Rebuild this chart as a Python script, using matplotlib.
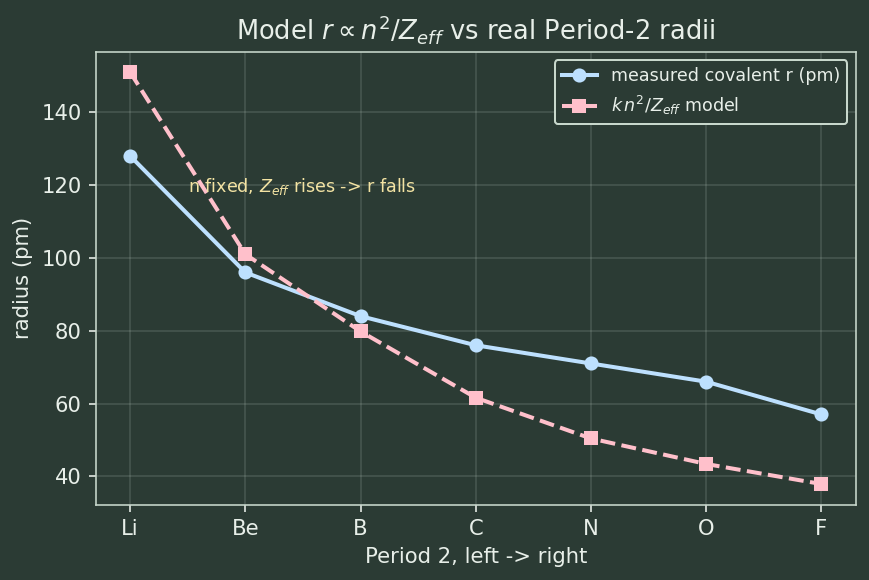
import numpy as np
import matplotlib
matplotlib.use("Agg")
import matplotlib.pyplot as plt

elements = ["Li", "Be", "B", "C", "N", "O", "F"]
measured_r = [128, 96, 84, 76, 71, 66, 57]
model_r = [151.0, 101.0, 79.8, 61.6, 50.4, 43.4, 37.9]

bg = "#2b3b34"
fg = "#e8efe9"
spine_col = "#c8d8cc"

plt.rcParams["font.family"] = ["DejaVu Sans"]
plt.rcParams["font.size"] = 10.5

fig, ax = plt.subplots(figsize=(869 / 145, 4), dpi=145)
fig.patch.set_facecolor(bg)
ax.set_facecolor(bg)
fig.subplots_adjust(left=0.11, right=0.985, top=0.911, bottom=0.13)

x = np.arange(len(elements))
ax.plot(x, measured_r, "-o", color="#bde0fe", lw=2, ms=6,
        label="measured covalent r (pm)")
ax.plot(x, model_r, "--s", color="#ffc0cb", lw=2, ms=6,
        label=r"$k\,n^2/Z_{eff}$ model")

ax.text(0.5, 119.7, r"n fixed, $Z_{eff}$ rises -> r falls", color="#f3e3a3",
        fontsize=8.7, va="center", ha="left")

ax.set_xticks(x)
ax.set_xticklabels(elements)
ax.set_title(r"Model $r \propto n^2/Z_{eff}$ vs real Period-2 radii", color=fg, fontsize=12.8)
ax.set_xlabel("Period 2, left -> right", color=fg)
ax.set_ylabel("radius (pm)", color=fg)
ax.tick_params(colors=fg, which="both")
for s in ax.spines.values():
    s.set_color(spine_col)
ax.grid(True, color="#c8d8cc", alpha=0.18, lw=0.8)

leg = ax.legend(loc="upper right", fontsize=8.7, facecolor=bg, edgecolor=spine_col,
                framealpha=1)
for t in leg.get_texts():
    t.set_color(fg)

fig.savefig("out.png", facecolor=bg)
